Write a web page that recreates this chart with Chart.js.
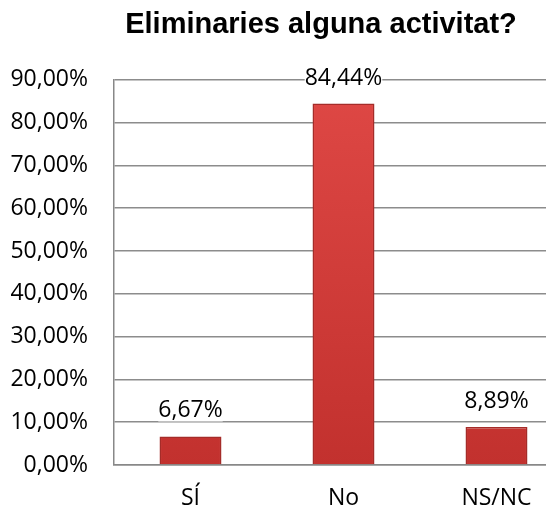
<!DOCTYPE html>
<html>
<head>
<meta charset="utf-8">
<script src="https://cdn.jsdelivr.net/npm/chart.js@4.4.0/dist/chart.umd.min.js"></script>
<style>
  html, body { margin: 0; padding: 0; background: #fff; overflow: hidden; }
  #wrap { width: 546px; height: 511px; overflow: hidden; }
  canvas { display: block; }
</style>
</head>
<body>
<div id="wrap"><canvas id="myChart" width="642" height="511"></canvas></div>
<script>
// chart data
const categories = ['SÍ', 'No', 'NS/NC'];
const percentValues = [6.67, 84.44, 8.89];
const chartTitle = 'Eliminaries alguna activitat?';

const fontFamily = '"Open Sans", "DejaVu Sans", sans-serif';

function fmt(v) {
  return v.toFixed(2).replace('.', ',') + '%';
}

// red bar, lighter at the top and darker at the base
function barFill(context) {
  const chart = context.chart;
  const area = chart.chartArea;
  if (!area) return '#cc3a38';
  const g = chart.ctx.createLinearGradient(0, area.top, 0, area.bottom);
  g.addColorStop(0, '#df4845');
  g.addColorStop(1, '#c2312e');
  return g;
}

// draws the value above each bar, on a white box so gridlines don't cross it
const valueLabels = {
  id: 'valueLabels',
  afterDatasetsDraw(chart) {
    const ctx = chart.ctx;
    const meta = chart.getDatasetMeta(0);
    ctx.save();
    ctx.font = '23px ' + fontFamily;
    ctx.textAlign = 'center';
    ctx.textBaseline = 'alphabetic';
    meta.data.forEach((bar, i) => {
      const txt = fmt(percentValues[i]);
      const y = bar.y - 19;
      const m = ctx.measureText(txt);
      ctx.fillStyle = '#fff';
      ctx.fillRect(bar.x - m.width / 2, y - m.actualBoundingBoxAscent, m.width, m.actualBoundingBoxAscent + m.actualBoundingBoxDescent + 1);
      ctx.fillStyle = '#000';
      ctx.fillText(txt, bar.x, y);
    });
    ctx.restore();
  }
};

// title is centred on the whole canvas, not just the padded box
const titleCenter = {
  id: 'titleCenter',
  afterLayout(chart) {
    if (chart.titleBlock) {
      chart.titleBlock.left = 0;
      chart.titleBlock.right = chart.width;
    }
  }
};

document.addEventListener('DOMContentLoaded', () => {
  const ctx = document.getElementById('myChart').getContext('2d');
  new Chart(ctx, {
    type: 'bar',
    data: {
      labels: categories,
      datasets: [{
        data: percentValues,
        backgroundColor: barFill,
        borderColor: '#a52c29',
        borderWidth: 1.5,
        barPercentage: 0.405,
        categoryPercentage: 1.0
      }]
    },
    options: {
      responsive: false,
      animation: false,
      layout: { padding: { left: 0, right: 69, top: 0, bottom: 0 } },
      plugins: {
        legend: { display: false },
        tooltip: { enabled: false },
        title: {
          display: true,
          text: chartTitle,
          color: '#000',
          font: { family: '"Liberation Sans", Arial, sans-serif', size: 29, weight: 'bold' },
          padding: { top: 8, bottom: 37 }
        }
      },
      scales: {
        x: {
          afterFit(scale) { scale.height = 46; },
          grid: { display: false, drawTicks: false },
          border: { display: true, color: '#888', width: 1.5 },
          ticks: {
            color: '#000',
            font: { family: fontFamily, size: 23 },
            padding: 20
          }
        },
        y: {
          min: 0,
          max: 90,
          afterFit(scale) { scale.width = 114; },
          grid: { color: '#8c8c8c', lineWidth: 1.5, drawTicks: false },
          border: { display: true, color: '#888', width: 1.5 },
          ticks: {
            stepSize: 10,
            color: '#000',
            padding: 26,
            font: { family: fontFamily, size: 23 },
            callback: (v) => fmt(v)
          }
        }
      }
    },
    plugins: [valueLabels, titleCenter]
  });
});
</script>
</body>
</html>
